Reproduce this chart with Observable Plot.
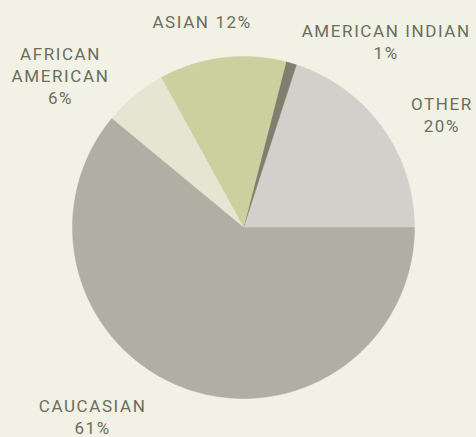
<!DOCTYPE html>
<html>
<head>
<meta charset="utf-8">
<script src="https://cdn.jsdelivr.net/npm/d3@7"></script>
<script src="https://cdn.jsdelivr.net/npm/@observablehq/plot@0.6"></script>
<style>
  html, body { margin: 0; padding: 0; background: #f2f1e6; }
  #chart { width: 476px; height: 437px; }
</style>
</head>
<body>
<div id="chart"></div>
<script>
// Data (counter-clockwise from 3 o'clock)
const categories = ["OTHER", "AMERICAN INDIAN", "ASIAN", "AFRICAN AMERICAN", "CAUCASIAN"];
const percents = [20, 1, 12, 6, 61];
const labelTexts = ["OTHER\n20%", "AMERICAN INDIAN\n1%", "ASIAN 12%", "AFRICAN\nAMERICAN\n6%", "CAUCASIAN\n61%"];
const colors = ["#d1d0cb", "#7f7f6d", "#cbd09e", "#e4e6d1", "#afafa4"];

// label nudges (pixels) from the slice's outer edge at its mid angle
const labelNudge = [[60, -13], [95, -22], [-20, -37], [-74, -21], [-93, 27.5]];

const rows = categories.map((c, i) => ({cat: c, value: percents[i], label: labelTexts[i]}));
const arcs = d3.pie().sort(null).value(d => d.value)
  .startAngle(Math.PI / 2).endAngle(Math.PI / 2 - 2 * Math.PI)(rows);

// polygon outline of each slice in unit-radius coordinates (y up)
const poly = [];
arcs.forEach(a => {
  const cat = a.data.cat;
  poly.push({cat, x: 0, y: 0});
  const n = Math.max(4, Math.ceil(Math.abs(a.endAngle - a.startAngle) / (Math.PI / 360)));
  for (let k = 0; k <= n; k++) {
    const t = a.startAngle + (a.endAngle - a.startAngle) * k / n;
    poly.push({cat, x: Math.sin(t), y: Math.cos(t)});
  }
  poly.push({cat, x: 0, y: 0});
});

const R = 171, cx = 243, cy = 227, W = 476, H = 437;

const textMarks = arcs.map((a, i) => {
  const m = (a.startAngle + a.endAngle) / 2;
  return Plot.text([{x: Math.sin(m), y: Math.cos(m), label: a.data.label}], {
    x: "x", y: "y", text: "label",
    dx: labelNudge[i][0], dy: labelNudge[i][1],
    fill: "#6b6e5c", fontSize: 17, lineHeight: 1.3,
    textAnchor: "middle", lineAnchor: "middle"
  });
});

const chart = Plot.plot({
  width: W, height: H,
  margin: 0,
  style: {background: "#f2f1e6", fontFamily: "Roboto, 'Liberation Sans', sans-serif", letterSpacing: "1.6px", overflow: "visible"},
  x: {domain: [-cx / R, (W - cx) / R], range: [0, W], axis: null},
  y: {domain: [-(H - cy) / R, cy / R], range: [H, 0], axis: null},
  color: {domain: categories, range: colors},
  marks: [
    Plot.line(poly, {x: "x", y: "y", z: "cat", fill: "cat", stroke: "cat", strokeWidth: 0.5, curve: "linear"}),
    ...textMarks
  ]
});
document.getElementById("chart").appendChild(chart);
</script>
</body>
</html>
